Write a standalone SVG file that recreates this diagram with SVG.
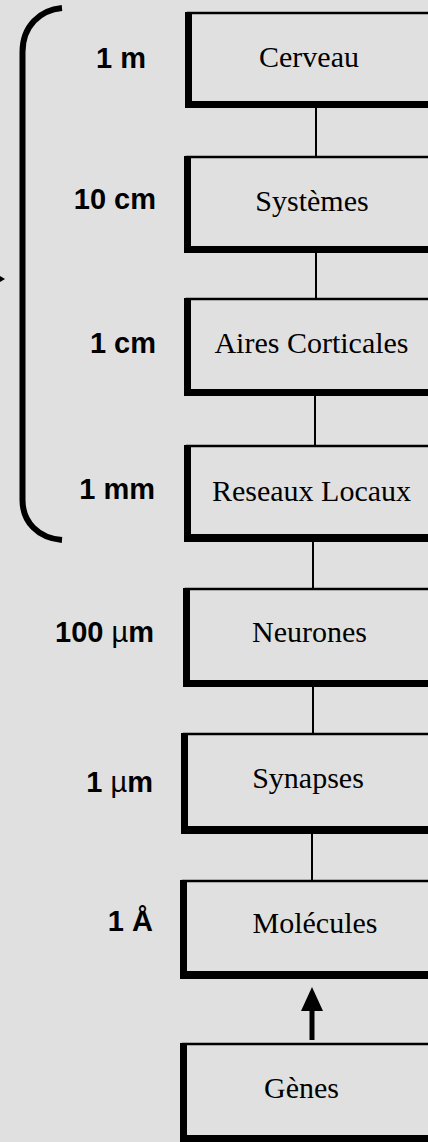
<svg xmlns="http://www.w3.org/2000/svg" width="428" height="1142" viewBox="0 0 428 1142">
  <style>
    .bg { fill: #e0e0e0; }
    .frame { fill: #e0e0e0; stroke: #000; stroke-width: 2.5; }
    .bar { fill: #000; }
    .name { font-family: "Liberation Serif", "Times New Roman", serif; font-size: 30px; fill: #000; text-anchor: middle; }
    .scale { font-family: "Liberation Sans", Arial, sans-serif; font-size: 29px; font-weight: bold; fill: #000; text-anchor: end; }
    .mu { font-weight: normal; }
    .link { stroke: #000; stroke-width: 2; fill: none; }
    .brace { stroke: #000; stroke-width: 6; fill: none; }
  </style>
  <defs>
    <marker id="head" viewBox="0 0 24 22" refX="1" refY="11" markerWidth="24" markerHeight="22" markerUnits="userSpaceOnUse" orient="auto">
      <path d="M0,0 L24,11 L0,22 Z" fill="#000"/>
    </marker>
  </defs>

  <rect class="bg" x="0" y="0" width="428" height="1142"/>

  <!-- bracket grouping the upper four levels -->
  <g id="bracket">
    <path class="brace" d="M62,8 C40,10 22.5,26 22.5,52 L22.5,500 C22.5,522 38,538 62,540"/>
    <polygon points="0,276 5,279 0,282" fill="#000"/>
  </g>

  <!-- scale labels -->
  <g id="scales">
    <text class="scale" x="146" y="68">1 m</text>
    <text class="scale" x="156" y="209">10 cm</text>
    <text class="scale" x="156" y="353">1 cm</text>
    <text class="scale" x="155" y="499">1 mm</text>
    <text class="scale" x="154" y="642">100 <tspan class="mu">µ</tspan>m</text>
    <text class="scale" x="153" y="792">1 <tspan class="mu">µ</tspan>m</text>
    <text class="scale" x="153" y="931">1 Å</text>
  </g>

  <!-- connectors -->
  <g id="connectors">
    <line class="link" x1="316" y1="108" x2="316" y2="157"/>
    <line class="link" x1="316" y1="252" x2="316" y2="299"/>
    <line class="link" x1="315" y1="396" x2="315" y2="446"/>
    <line class="link" x1="313" y1="541" x2="313" y2="589"/>
    <line class="link" x1="313" y1="686" x2="313" y2="734"/>
    <line class="link" x1="312" y1="833" x2="312" y2="881"/>
    <line x1="312" y1="1040" x2="312" y2="1010" stroke="#000" stroke-width="5" marker-end="url(#head)"/>
  </g>

  <!-- levels -->
  <g id="cerveau">
    <rect class="frame" x="188" y="13" width="260" height="92"/>
    <rect class="bar" x="185" y="12" width="7" height="96"/>
    <rect class="bar" x="185" y="101" width="250" height="7"/>
    <text class="name" x="309" y="67">Cerveau</text>
  </g>
  <g id="systemes">
    <rect class="frame" x="187" y="157" width="260" height="92"/>
    <rect class="bar" x="184" y="156" width="7" height="97"/>
    <rect class="bar" x="184" y="246" width="250" height="7"/>
    <text class="name" x="312" y="211">Systèmes</text>
  </g>
  <g id="aires">
    <rect class="frame" x="187" y="299" width="260" height="93"/>
    <rect class="bar" x="184" y="298" width="7" height="98"/>
    <rect class="bar" x="184" y="389" width="250" height="7"/>
    <text class="name" x="311.5" y="353">Aires Corticales</text>
  </g>
  <g id="reseaux">
    <rect class="frame" x="187" y="446" width="260" height="92"/>
    <rect class="bar" x="184" y="445" width="7" height="97"/>
    <rect class="bar" x="184" y="534" width="250" height="8"/>
    <text class="name" x="311.5" y="501">Reseaux Locaux</text>
  </g>
  <g id="neurones">
    <rect class="frame" x="186" y="589" width="260" height="94"/>
    <rect class="bar" x="183" y="588" width="7" height="99"/>
    <rect class="bar" x="183" y="680" width="250" height="7"/>
    <text class="name" x="309.5" y="642">Neurones</text>
  </g>
  <g id="synapses">
    <rect class="frame" x="184" y="734" width="260" height="95"/>
    <rect class="bar" x="181" y="733" width="7" height="101"/>
    <rect class="bar" x="181" y="826" width="250" height="8"/>
    <text class="name" x="308" y="788">Synapses</text>
  </g>
  <g id="molecules">
    <rect class="frame" x="183" y="881" width="260" height="93"/>
    <rect class="bar" x="180" y="880" width="7" height="99"/>
    <rect class="bar" x="180" y="971" width="250" height="8"/>
    <text class="name" x="315" y="933">Molécules</text>
  </g>
  <g id="genes">
    <rect class="frame" x="183" y="1044" width="260" height="93"/>
    <rect class="bar" x="180" y="1043" width="7" height="99"/>
    <rect class="bar" x="180" y="1135" width="250" height="7"/>
    <text class="name" x="301.5" y="1098">Gènes</text>
  </g>
</svg>
